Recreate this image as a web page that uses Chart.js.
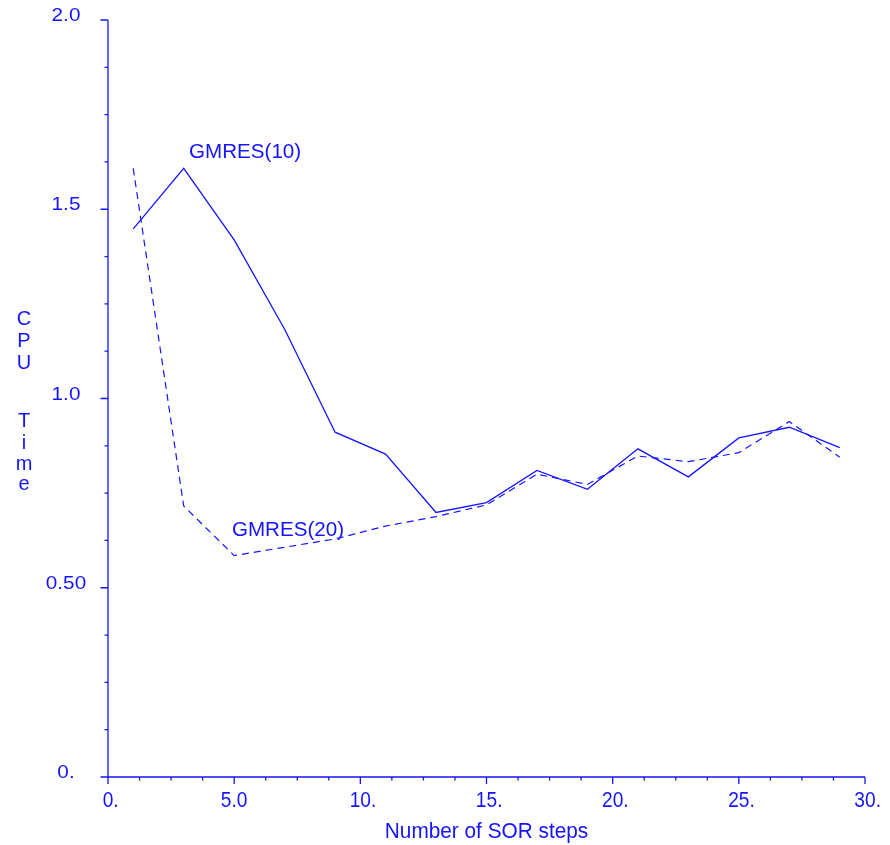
<!DOCTYPE html>
<html>
<head>
<meta charset="utf-8">
<script src="https://cdn.jsdelivr.net/npm/chart.js@4"></script>
<style>
    html, body { margin: 0; padding: 0; background: #fff; }
    #wrap { width: 890px; height: 845px; }
</style>
</head>
<body>
<div id="wrap"><canvas id="cpu-chart" width="890" height="845"></canvas></div>
<script>
// SOR steps on the x axis
const steps = [1, 3, 5, 7, 9, 11, 13, 15, 17, 19, 21, 23, 25, 27, 29]

// CPU time for each solver
const gmres10 = [1.448, 1.608, 1.419, 1.183, 0.911, 0.853, 0.699, 0.725, 0.810, 0.760, 0.867, 0.793, 0.896, 0.924, 0.870]
const gmres20 = [1.608, 0.716, 0.585, 0.607, 0.629, 0.663, 0.688, 0.719, 0.800, 0.773, 0.848, 0.833, 0.857, 0.939, 0.845]

// tick labels as printed on the plot
const xTicks = [0, 5, 10, 15, 20, 25, 30]
const xTickLabels = ['0.', '5.0', '10.', '15.', '20.', '25.', '30.']
const yTicks = [0, 0.5, 1.0, 1.5, 2.0]
const yTickLabels = ['0.', '0.50', '1.0', '1.5', '2.0']

// curve labels, placed in data units
const curveNames = ['GMRES(10)', 'GMRES(20)']
const curveNameAt = [[3.21, 1.635], [4.91, 0.637]]

const BLUE = 'rgb(20, 20, 255)'
const FONT = '"Liberation Sans", Arial, Helvetica, sans-serif'

function points(ys)
{
    return steps.map(function (s, i) { return { x: s, y: ys[i] } })
}

function stretchedText(ctx, text, x, y, size, sx)
{
    ctx.save()
    ctx.font = size + 'px ' + FONT
    ctx.translate(x, y)
    ctx.scale(sx, 1)
    ctx.fillText(text, 0, 0)
    ctx.restore()
}

const axesPlugin = {
    id: 'oldAxes',
    afterDraw: function (chart)
    {
        const ctx = chart.ctx
        const area = chart.chartArea
        const xs = chart.scales.x
        const ys = chart.scales.y

        ctx.save()
        ctx.strokeStyle = BLUE
        ctx.fillStyle = BLUE
        ctx.lineWidth = 1.3

        // axis lines
        ctx.beginPath()
        ctx.moveTo(area.left, area.top)
        ctx.lineTo(area.left, area.bottom)
        ctx.lineTo(area.right, area.bottom)
        ctx.stroke()

        // x ticks, minor every 1.25
        ctx.beginPath()
        for (let v = 0; v <= 30.001; v += 1.25)
        {
            const px = xs.getPixelForValue(v)
            const major = Math.abs(v / 5 - Math.round(v / 5)) < 1e-6
            ctx.moveTo(px, area.bottom)
            ctx.lineTo(px, area.bottom + (major ? 7 : 3.5))
        }
        // y ticks, minor every 0.125
        for (let v = 0; v <= 2.0001; v += 0.125)
        {
            const py = ys.getPixelForValue(v)
            const major = Math.abs(v / 0.5 - Math.round(v / 0.5)) < 1e-6
            ctx.moveTo(area.left, py)
            ctx.lineTo(area.left - (major ? 7.5 : 3.5), py)
        }
        ctx.stroke()

        // x tick labels: digits centred on the tick
        ctx.textBaseline = 'alphabetic'
        ctx.textAlign = 'left'
        const xsx = 0.87
        ctx.font = '22px ' + FONT
        xTicks.forEach(function (v, i)
        {
            const lbl = xTickLabels[i]
            const core = lbl.replace(/\.$/, '')
            const w = ctx.measureText(core).width * xsx
            stretchedText(ctx, lbl, xs.getPixelForValue(v) - w / 2, area.bottom + 30, 22, xsx)
        })

        // y tick labels
        const ysx = 1.15
        ctx.font = '18px ' + FONT
        yTicks.forEach(function (v, i)
        {
            const lbl = yTickLabels[i]
            const w = ctx.measureText(lbl).width * ysx
            stretchedText(ctx, lbl, area.left - 42 - w / 2, ys.getPixelForValue(v) + 1, 18, ysx)
        })

        // x axis title
        ctx.font = '22px ' + FONT
        const title = 'Number of SOR steps'
        const tw = ctx.measureText(title).width * 0.945
        stretchedText(ctx, title, (area.left + area.right) / 2 - tw / 2, area.bottom + 61, 22, 0.945)

        // y axis title, one letter per line
        ctx.textAlign = 'center'
        ctx.font = '20px ' + FONT
        const letters = ['C', 'P', 'U', 'T', 'i', 'm', 'e']
        const baselines = [325, 347, 369, 427, 449, 470, 490]
        letters.forEach(function (c, i) { ctx.fillText(c, 24, baselines[i]) })

        // curve names
        ctx.textAlign = 'left'
        curveNames.forEach(function (n, i)
        {
            stretchedText(ctx, n, xs.getPixelForValue(curveNameAt[i][0]), ys.getPixelForValue(curveNameAt[i][1]), 20, 1.03)
        })
        ctx.restore()
    }
}

new Chart('cpu-chart', {
    type: 'line',
    data: {
        datasets: [
            {
                label: 'GMRES(10)',
                data: points(gmres10),
                borderColor: BLUE,
                borderWidth: 1.3,
                pointRadius: 0,
                tension: 0,
                fill: false
            },
            {
                label: 'GMRES(20)',
                data: points(gmres20),
                borderColor: BLUE,
                borderWidth: 1.2,
                borderDash: [7, 5],
                pointRadius: 0,
                tension: 0,
                fill: false
            }
        ]
    },
    options: {
        responsive: false,
        animation: false,
        layout: {
            padding: { left: 108, right: 25, top: 20, bottom: 68 }
        },
        scales: {
            x: { type: 'linear', min: 0, max: 30, display: false },
            y: { type: 'linear', min: 0, max: 2.0, display: false }
        },
        plugins: {
            legend: { display: false },
            tooltip: { enabled: false }
        }
    },
    plugins: [axesPlugin]
})
</script>
</body>
</html>
